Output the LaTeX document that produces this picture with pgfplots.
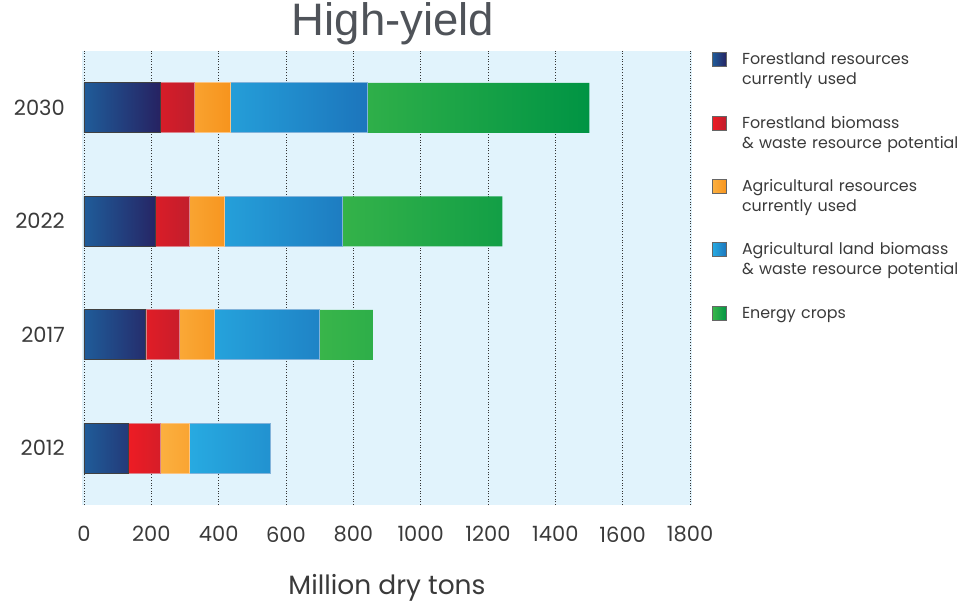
\documentclass[border=0pt]{standalone}
\usepackage{fontspec}
\setmainfont{Poppins}[Numbers=Proportional]
\newfontfamily\titlefont{Liberation Sans}
\usepackage{pgfplots}
\pgfplotsset{compat=1.18}

\definecolor{bgblue}{HTML}{E1F3FC}
\definecolor{fuL}{HTML}{1F5C99}
\definecolor{fuR}{HTML}{262262}
\definecolor{fpL}{HTML}{ED1C24}
\definecolor{fpR}{HTML}{BE1E2D}
\definecolor{auL}{HTML}{FBB040}
\definecolor{auR}{HTML}{F7941D}
\definecolor{apL}{HTML}{27AAE1}
\definecolor{apR}{HTML}{1C75BC}
\definecolor{ecL}{HTML}{39B54A}
\definecolor{ecR}{HTML}{009444}
\definecolor{txt}{HTML}{3A3A3A}
\definecolor{ttl}{HTML}{4F5359}

\begin{document}
\begin{tikzpicture}[x=1pt,y=1pt]
\useasboundingbox (0,0) rectangle (980,-604);
\begin{axis}[
  at={(82.3pt,-505pt)}, anchor=south west,
  scale only axis, width=609.4pt, height=454pt,
  xmin=-5, xmax=1805, ymin=-0.5, ymax=3.5,
  xbar stacked, bar width=50pt,
  ytick={0,1,2,3}, yticklabels={2012,2017,2022,2030},
  xtick={0,200,...,1800},
  axis line style={draw=none}, major tick length=0pt,
  xmajorgrids, ymajorgrids=false,
  grid style={black!80, line width=0.9pt, dash pattern=on 0.9pt off 1.8pt},
  axis background/.style={fill=bgblue},
  /pgf/number format/assume math mode=true,
  /pgf/number format/1000 sep={},
  tick label style={font=\fontsize{21}{25}\selectfont, text=txt},
  yticklabel style={xshift=-14pt},
  xticklabel style={yshift=-18pt},
  xlabel={Million dry tons},
  every axis x label/.style={at={(axis description cs:0.5,0)}, anchor=center,
    yshift=-83pt, font=\fontsize{26.5}{30}\selectfont, text=txt},
  title={High-yield},
  every axis title/.style={at={(axis description cs:0.5,1)}, anchor=center,
    yshift=27pt, xshift=6pt, font=\titlefont\fontsize{45.5}{50}\selectfont, text=ttl},
  legend style={at={(1,1)}, anchor=north west, xshift=20.3pt, yshift=-1pt,
    draw=none, fill=none, inner sep=0pt, row sep=22pt, column sep=15pt,
    nodes={inner sep=0pt, text width=230pt, align=left, text height=12pt, text depth=29pt,
      font=\fontsize{15.9}{20}\selectfont, text=txt}},
  legend cell align=left,
  legend image code/.code={\draw[#1, draw=black!60, line width=0.8pt] (0pt,6.5pt) rectangle (14pt,20.5pt);},
]
% Forestland resources currently used
\addplot[left color=fuL, right color=fuR, draw=black!75, line width=0.9pt]
  coordinates {(131,0) (184,1) (212,2) (226,3)};
% Forestland biomass & waste resource potential
\addplot[left color=fpL, right color=fpR, draw=fpR!55!white, line width=0.6pt]
  coordinates {(95,0) (99,1) (101,2) (103,3)};
% Agricultural resources currently used
\addplot[left color=auL, right color=auR, draw=auR!55!white, line width=0.6pt]
  coordinates {(87,0) (105,1) (103,2) (105,3)};
% Agricultural land biomass & waste resource potential
\addplot[left color=apL, right color=apR, draw=apR!55!white, line width=0.6pt]
  coordinates {(240,0) (311,1) (350,2) (408,3)};
% Energy crops (none in 2012)
\addplot[left color=ecL, right color=ecR, draw=none]
  coordinates {(0,0) (159,1) (477,2) (659,3)};
\legend{Forestland resources\\currently used,
  Forestland biomass\\\& waste resource potential,
  Agricultural resources\\currently used,
  Agricultural land biomass\\\& waste resource potential,
  Energy crops}
\end{axis}
\end{tikzpicture}
\end{document}
